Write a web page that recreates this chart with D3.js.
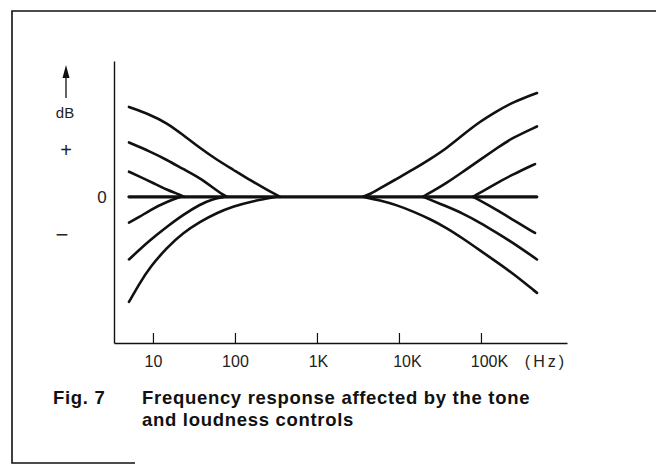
<!DOCTYPE html>
<html>
<head>
<meta charset="utf-8">
<script src="https://cdn.jsdelivr.net/npm/d3@7"></script>
<style>
  body { margin: 0; background: #fff; }
  svg { display: block; }
  .lbl { font-family: "Liberation Sans", Arial, sans-serif; fill: #222; }
  .cap { font-family: "Liberation Sans", Arial, sans-serif; font-weight: bold; fill: #111; }
</style>
</head>
<body>
<div id="chart"></div>
<script>
// x ticks
var tickHz = [10, 100, 1000, 10000, 100000];
var tickLabels = ["10", "100", "1K", "10K", "100K"];

// flat response (Hz, dB)
var flatLine = [[5.1, 0], [480000, 0]];

// bass side curves (Hz, dB)
var bassCurves = [
    [[5.1, 12.9], [9.2, 11.8], [14.8, 10.6], [23.2, 8.9], [37.4, 7.0], [60.3, 5.3], [94.6, 3.9], [152, 2.4], [246, 1.0], [355, 0]],
    [[5.1, 7.8], [9.2, 6.5], [14.8, 5.3], [23.2, 4.0], [37.4, 2.7], [54, 1.3], [71, 0.3], [80, 0]],
    [[5.1, 3.6], [6.9, 2.9], [10, 2.0], [14.8, 1.0], [21.3, 0.3], [24, 0]],
    [[5.1, -3.7], [6.9, -2.9], [9.2, -1.9], [14.8, -0.7], [22, 0]],
    [[5.1, -9.0], [9.2, -6.2], [14.8, -4.3], [23.2, -2.6], [37.4, -1.1], [54, -0.3], [75, 0]],
    [[5.1, -15.1], [6.9, -12.4], [9.2, -10.1], [14.8, -7.3], [23.2, -5.2], [37.4, -3.6], [60.3, -2.3], [94.6, -1.4], [152, -0.7], [325, 0]]
];

// treble side curves
var trebleCurves = [
    [[3640, 0], [4500, 0.4], [5870, 1.2], [9460, 2.6], [14800, 3.9], [23900, 5.4], [38500, 7.0], [60300, 8.9], [97300, 10.8], [157000, 12.3], [245000, 13.6], [482000, 14.9]],
    [[19600, 0], [38500, 2.0], [60300, 3.6], [97300, 5.3], [157000, 7.0], [245000, 8.5], [482000, 10.1]],
    [[80000, 0], [157000, 2.0], [245000, 3.2], [456000, 4.7]],
    [[80000, 0], [157000, -1.9], [245000, -3.3], [456000, -5.2]],
    [[19600, 0], [38500, -1.4], [60300, -2.4], [97300, -3.7], [157000, -5.2], [245000, -6.6], [482000, -9.0]],
    [[3640, 0], [5870, -0.5], [9460, -1.2], [14800, -2.1], [23900, -3.2], [38500, -4.5], [60300, -6.0], [97300, -7.7], [157000, -9.4], [245000, -11.0], [482000, -13.8]]
];

var svgWidth = 656;
var svgHeight = 465;

var svg = d3.select("#chart")
    .append("svg")
    .attr("width", svgWidth)
    .attr("height", svgHeight);

// frame (scanned page border, open on the right)
svg.append("path")
    .attr("d", "M135,463 L12,463 L12,11 L656,11")
    .attr("fill", "none")
    .attr("stroke", "#111")
    .attr("stroke-width", 1.6);

var x = d3.scaleLog()
    .domain([3.35, 1.12e6])
    .range([114, 567]);

var y = d3.scaleLinear()
    .domain([-21, 19.5])
    .range([343, 61]);

// axes
var xAxis = d3.axisBottom(x)
    .tickValues(tickHz)
    .tickSizeInner(-10)
    .tickSizeOuter(0)
    .tickPadding(13)
    .tickFormat(function(d, i) { return tickLabels[i]; });

var gx = svg.append("g")
    .attr("transform", "translate(0," + y(-21) + ")")
    .call(xAxis);

gx.select(".domain").attr("stroke", "#111").attr("stroke-width", 1.4);
gx.selectAll(".tick line").attr("stroke", "#111").attr("stroke-width", 1.2);
gx.selectAll(".tick text")
    .attr("font-size", 16)
    .attr("dx", function(d) { return d >= 10000 ? 8 : (d >= 1000 ? 1 : 0); })
    .style("font-family", "'Liberation Sans', Arial, sans-serif")
    .style("fill", "#222");

gx.append("text")
    .attr("x", x(1e6) - 17)
    .attr("y", 13)
    .attr("dy", "0.71em")
    .attr("text-anchor", "middle")
    .attr("font-size", 16)
    .attr("letter-spacing", 3)
    .style("font-family", "'Liberation Sans', Arial, sans-serif")
    .style("fill", "#222")
    .text("(Hz)");

var yAxis = d3.axisLeft(y).tickValues([]).tickSizeOuter(0);
var gy = svg.append("g")
    .attr("transform", "translate(" + x(3.35) + ",0)")
    .call(yAxis);
gy.select(".domain").attr("stroke", "#111").attr("stroke-width", 1.4);

// dB arrow and level marks
svg.append("line")
    .attr("x1", 66).attr("x2", 66)
    .attr("y1", 98).attr("y2", 75)
    .attr("stroke", "#111")
    .attr("stroke-width", 1.3);
svg.append("path")
    .attr("d", "M66,65 L62.5,78 L69.5,78 Z")
    .attr("fill", "#111");

svg.append("text").attr("class", "lbl")
    .attr("x", 65).attr("y", 118)
    .attr("text-anchor", "middle")
    .attr("font-size", 15)
    .text("dB");
svg.append("text").attr("class", "lbl")
    .attr("x", 66).attr("y", 157)
    .attr("text-anchor", "middle")
    .attr("font-size", 20)
    .text("+");
svg.append("text").attr("class", "lbl")
    .attr("x", 102).attr("y", y(0) + 6)
    .attr("text-anchor", "middle")
    .attr("font-size", 17)
    .text("0");
svg.append("text").attr("class", "lbl")
    .attr("x", 62).attr("y", 242)
    .attr("text-anchor", "middle")
    .attr("font-size", 22)
    .text("\u2212");

// curves
var line = d3.line()
    .x(function(d) { return x(d[0]); })
    .y(function(d) { return y(d[1]); })
    .curve(d3.curveBasis);

var curveGroup = svg.append("g")
    .attr("fill", "none")
    .attr("stroke", "#111")
    .attr("stroke-linecap", "round");

curveGroup.selectAll(".bass")
    .data(bassCurves)
    .enter()
    .append("path")
    .attr("class", "bass")
    .attr("d", line)
    .attr("stroke-width", 2.6);

curveGroup.selectAll(".treble")
    .data(trebleCurves)
    .enter()
    .append("path")
    .attr("class", "treble")
    .attr("d", line)
    .attr("stroke-width", 2.6);

curveGroup.append("path")
    .datum(flatLine)
    .attr("d", line)
    .attr("stroke-width", 3.2);

// caption
svg.append("text").attr("class", "cap")
    .attr("x", 53).attr("y", 404)
    .attr("font-size", 18.5)
    .attr("letter-spacing", 0.7)
    .text("Fig. 7");
svg.append("text").attr("class", "cap")
    .attr("x", 142).attr("y", 404)
    .attr("font-size", 18.5)
    .attr("letter-spacing", 0.7)
    .text("Frequency response affected by the tone");
svg.append("text").attr("class", "cap")
    .attr("x", 142).attr("y", 426)
    .attr("font-size", 18.5)
    .attr("letter-spacing", 0.7)
    .text("and loudness controls");
</script>
</body>
</html>
